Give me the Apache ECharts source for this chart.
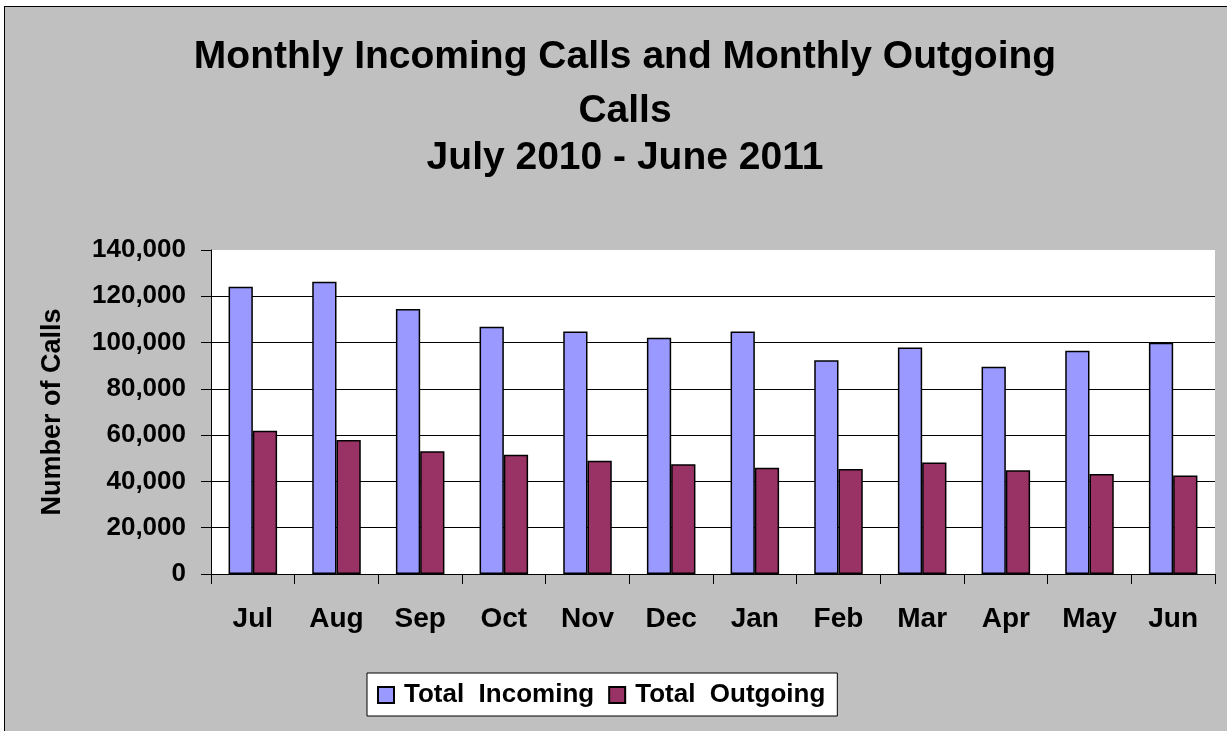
<!DOCTYPE html>
<html>
<head>
<meta charset="utf-8">
<script src="https://cdn.jsdelivr.net/npm/echarts@6/dist/echarts.min.js"></script>
<style>
  html, body { margin: 0; padding: 0; background: #fff; overflow: hidden; }
  #chart {
    position: absolute; left: 4px; top: 6px;
    width: 1222px; height: 724px;
    border-left: 1px solid #000; border-top: 1px solid #000;
    background: #c0c0c0;
  }
</style>
</head>
<body>
<div id="chart"></div>
<script>
var months = ['Jul', 'Aug', 'Sep', 'Oct', 'Nov', 'Dec', 'Jan', 'Feb', 'Mar', 'Apr', 'May', 'Jun'];
var incoming = [124100, 126300, 114500, 106800, 104800, 102100, 104800, 92400, 97900, 89600, 96500, 99900];
var outgoing = [61900, 57900, 53000, 51500, 48900, 47400, 45900, 45400, 48200, 44800, 43200, 42600];
var seriesNames = ['Total  Incoming', 'Total  Outgoing'];

var font = '"Liberation Sans", Arial, sans-serif';

function addCommas(v) {
    return String(v).replace(/\B(?=(\d{3})+(?!\d))/g, ',');
}

var chart = echarts.init(document.getElementById('chart'));
var option = {
    backgroundColor: '#c0c0c0',
    animation: false,
    title: {
        text: '{a|Monthly Incoming Calls and Monthly Outgoing}\n{b|Calls}\n{c|July 2010 - June 2011}',
        left: 620,
        textAlign: 'center',
        top: 23,
        padding: 0,
        textStyle: {
            rich: {
                a: { fontSize: 39, fontWeight: 'bold', fontFamily: font, color: '#000', lineHeight: 54 },
                b: { fontSize: 39, fontWeight: 'bold', fontFamily: font, color: '#000', lineHeight: 54 },
                c: { fontSize: 39, fontWeight: 'bold', fontFamily: font, color: '#000', lineHeight: 40 }
            }
        }
    },
    legend: {
        data: seriesNames,
        left: 362,
        top: 666,
        backgroundColor: '#fff',
        borderColor: '#000',
        borderWidth: 1,
        padding: [9, 12, 8, 10],
        itemWidth: 16,
        itemHeight: 16,
        itemGap: 14,
        icon: 'rect',
        textStyle: { fontSize: 26, fontWeight: 'bold', fontFamily: font, color: '#000', padding: [0, 0, 0, 5] }
    },
    grid: {
        left: 206,
        right: 12,
        top: 243,
        bottom: 157,
        show: true,
        backgroundColor: '#fff',
        borderWidth: 0
    },
    xAxis: {
        type: 'category',
        data: months,
        axisLine: { lineStyle: { color: '#000', width: 1 } },
        axisTick: { show: true, length: 10, lineStyle: { color: '#000' } },
        axisLabel: { fontSize: 28, fontWeight: 'bold', fontFamily: font, color: '#000', margin: 31 }
    },
    yAxis: {
        type: 'value',
        min: 0,
        max: 140000,
        interval: 20000,
        name: 'Number of Calls',
        nameLocation: 'middle',
        nameGap: 145,
        nameTextStyle: { fontSize: 27, fontWeight: 'bold', fontFamily: font, color: '#000' },
        axisLine: { show: true, lineStyle: { color: '#000', width: 1 } },
        axisTick: { show: true, length: 10, lineStyle: { color: '#000' } },
        axisLabel: { fontSize: 26, fontWeight: 'bold', fontFamily: font, color: '#000', margin: 25, formatter: addCommas },
        splitLine: { show: true, showMaxLine: false, lineStyle: { color: '#000', width: 1 } }
    },
    series: [
        {
            name: seriesNames[0],
            type: 'bar',
            data: incoming,
            barGap: '0%',
            barCategoryGap: '42%',
            itemStyle: { color: '#9999ff', borderColor: '#000', borderWidth: 1.5 }
        },
        {
            name: seriesNames[1],
            type: 'bar',
            data: outgoing,
            barGap: '0%',
            barCategoryGap: '42%',
            itemStyle: { color: '#993366', borderColor: '#000', borderWidth: 1.5 }
        }
    ]
};
chart.setOption(option);
</script>
</body>
</html>
